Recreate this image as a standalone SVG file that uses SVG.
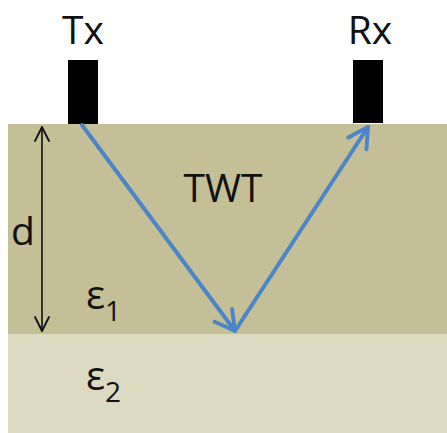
<svg xmlns="http://www.w3.org/2000/svg" width="447" height="433" viewBox="0 0 447 433">
<defs>
<style>
.t{font-family:"Open Sans","Liberation Sans",sans-serif;fill:#111;}
.ray{fill:none;stroke:#4A86C8;stroke-width:4;stroke-linecap:round;stroke-linejoin:round;}
</style>
<marker id="bh" viewBox="0 0 12 12" refX="10" refY="6" markerWidth="6.5" markerHeight="6.5" orient="auto" markerUnits="strokeWidth">
<path d="M1,1 L10,6 L1,11" fill="none" stroke="#4A86C8" stroke-width="1.8" stroke-linecap="round" stroke-linejoin="round"/>
</marker>
<marker id="kh" viewBox="0 0 12 12" refX="11" refY="6" markerWidth="11" markerHeight="11" orient="auto-start-reverse" markerUnits="strokeWidth">
<path d="M1,1 L11,6 L1,11" fill="none" stroke="#111" stroke-width="1.3"/>
</marker>
</defs>
<rect width="447" height="433" fill="#fff"/>
<g id="layer1"><rect x="8" y="124" width="439" height="210" fill="#C4BF96"/></g>
<g id="layer2"><rect x="8" y="334" width="439" height="99" fill="#DDDAC2"/></g>
<g id="tx"><rect x="68" y="60" width="30" height="64" fill="#000"/><text class="t" x="83" y="44" font-size="39" text-anchor="middle">Tx</text></g>
<g id="rx"><rect x="353" y="60" width="30" height="63" fill="#000"/><text class="t" x="370" y="44" font-size="39" text-anchor="middle">Rx</text></g>
<g id="labels">
<text class="t" x="223" y="202" font-size="39" text-anchor="middle">TWT</text>
<text class="t" x="11" y="245" font-size="39">d</text>
<text class="t" x="86" y="309" font-size="40">ε<tspan font-size="28" dy="12">1</tspan></text>
<text class="t" x="86" y="390" font-size="40">ε<tspan font-size="28" dy="12">2</tspan></text>
</g>
<g id="connectors">
<line x1="42" y1="127" x2="42" y2="331" stroke="#111" stroke-width="1.6" marker-start="url(#kh)" marker-end="url(#kh)"/>
<line class="ray" x1="82" y1="125" x2="235" y2="331" marker-end="url(#bh)"/>
<line class="ray" x1="235" y1="331" x2="368" y2="127" marker-end="url(#bh)"/>
</g>
</svg>
